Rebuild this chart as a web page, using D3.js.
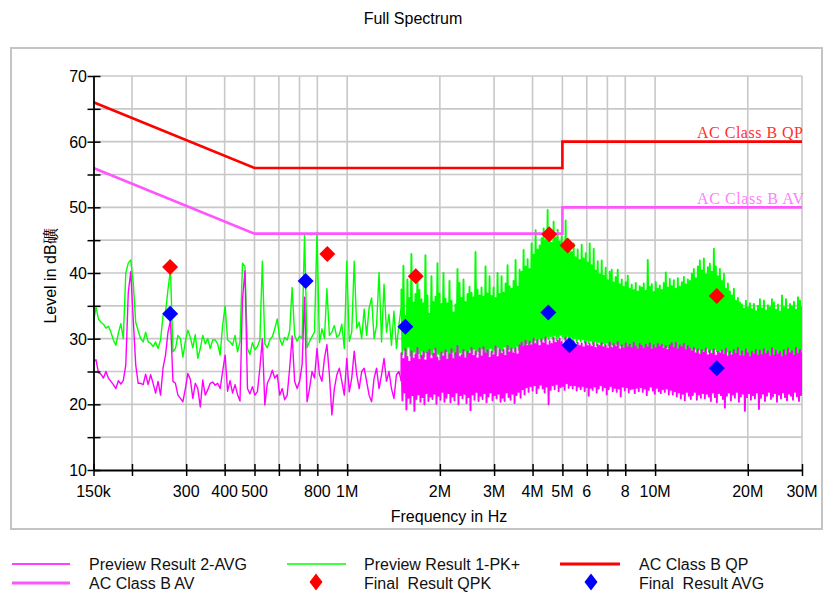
<!DOCTYPE html>
<html>
<head>
<meta charset="utf-8">
<script src="https://cdn.jsdelivr.net/npm/d3@7/dist/d3.min.js"></script>
<style>
  body { margin: 0; background: #fff; }
  svg { display: block; font-family: "Liberation Sans", Arial, sans-serif; }
</style>
</head>
<body>
<svg id="chart" width="825" height="592"></svg>
<script>
// ---- Sweep 1: 150 kHz .. 1.5 MHz (log-stepped) ----
const sweepLow = [150e3, 1.5e6];
const pkLow = [
  32.5, 34.8, 33.0, 32.5, 32.2, 31.6, 31.9, 31.0, 29.8, 29.0,
  30.8, 32.3, 30.0, 40.0, 41.5, 42.0, 38.5, 32.5, 31.2, 30.0,
  29.5, 31.0, 29.5, 29.3, 28.8, 29.5, 28.5, 29.8, 33.5, 34.0,
  37.5, 40.5, 28.0, 28.5, 30.5, 30.0, 27.2, 29.6, 31.3, 30.2,
  28.6, 30.6, 27.0, 28.5, 30.5, 29.2, 30.0, 28.5, 29.8, 29.8,
  29.2, 27.5, 32.0, 35.0, 29.8, 29.5, 29.0, 30.5, 28.0, 29.5,
  41.5, 41.0, 28.5,
  27.6, 29.4, 28.3, 28.8, 29.8, 41.8, 29.2, 28.6, 29.8, 30.3,
  31.5, 33.0, 30.0, 29.0, 30.2, 29.8, 31.2, 37.8, 30.5, 29.6,
  30.4, 30.0, 45.9, 28.6, 29.6, 30.3, 31.0, 46.2, 29.4, 31.5,
  30.0, 37.6, 30.5, 31.0, 32.0, 30.2, 30.6, 32.2, 28.5, 41.8,
  29.6, 31.0, 41.8, 31.6, 32.5, 30.0, 34.5, 30.5, 34.7, 36.2,
  30.0, 32.0, 40.1, 29.5, 38.3, 31.0, 33.7, 29.0, 34.2, 28.5,
  32.1, 35.0
];
const avLow = [
  26.5, 26.8, 24.8, 24.6, 24.0, 25.0, 24.0, 23.5, 23.0, 22.4,
  23.6, 23.1, 23.6, 26.0, 37.0, 40.2, 33.0, 26.0, 23.2, 23.2,
  23.0, 24.6, 23.0, 24.5, 23.2, 21.7, 23.5, 21.4, 25.5, 27.5,
  31.0, 32.8, 23.5, 23.2, 21.4, 20.9, 20.4, 22.4, 24.7, 23.8,
  20.9, 23.2, 22.4, 19.6, 23.7, 21.4, 22.2, 23.2, 23.4, 22.9,
  23.2, 22.4, 25.0, 27.5, 22.0, 23.6, 21.7, 23.0, 21.5, 20.5,
  36.0, 40.3, 22.4,
  21.6, 22.7, 21.4, 21.9, 25.5, 30.0, 19.9, 23.2, 24.0, 25.2,
  24.0, 24.5, 21.4, 22.4, 20.7, 21.4, 25.5, 30.4, 23.5, 22.4,
  23.5, 26.0, 36.3, 20.4, 22.4, 25.0, 24.0, 28.5, 24.5, 23.5,
  27.0, 29.1, 24.5, 18.4, 22.4, 24.5, 25.5, 23.5, 21.4, 27.0,
  21.9, 24.0, 28.1, 24.5, 22.4, 25.0, 25.5, 23.5, 21.4, 20.4,
  24.0, 25.5, 22.4, 24.5, 27.0, 23.5, 25.0, 22.4, 20.9, 24.5,
  25.0, 23.5
];

// ---- Sweep 2: 1.5 MHz .. 30 MHz (log-stepped, dense) ----
const sweepHigh = [1.5e6, 30e6];
const pkHigh = [
  37.5, 27.6, 41.1, 28.3, 33.5, 27.0, 39.0, 28.8, 36.2, 27.4,
  42.9, 27.2, 35.5, 28.0, 36.8, 26.6, 40.2, 27.8, 37.4, 27.1,
  36.0, 28.2, 35.4, 27.3, 42.7, 27.9, 36.6, 26.9, 33.8, 27.6,
  39.5, 27.5, 35.6, 28.4, 36.4, 27.0, 41.5, 27.7, 36.9, 26.8,
  35.3, 27.9, 40.0, 27.2, 36.1, 28.1, 35.4, 26.7, 38.8, 27.5,
  35.8, 28.0, 34.0, 27.1, 35.2, 27.8, 40.6, 27.3, 38.5, 27.9,
  36.2, 27.4, 39.0, 28.2, 35.6, 27.0, 36.8, 27.7, 37.9, 28.3,
  37.0, 27.8, 36.3, 28.4, 43.2, 27.6, 37.5, 28.1, 36.6, 27.3,
  37.8, 28.5, 36.4, 27.7, 41.0, 28.0, 36.9, 27.4, 39.5, 28.6,
  36.5, 27.9, 37.8, 28.3, 36.2, 27.6, 40.0, 28.7, 36.8, 27.8,
  39.5, 28.2, 37.0, 28.8, 38.4, 27.7, 41.2, 28.4, 38.0, 28.0,
  37.6, 28.6, 38.8, 28.1, 42.0, 28.9, 37.9, 28.3, 40.5, 28.7,
  40.2, 29.0, 43.5, 28.6, 41.0, 29.3, 42.1, 28.8, 40.6, 29.4,
  44.5, 29.2, 42.8, 29.8, 46.5, 29.4, 43.6, 30.0, 44.2, 29.6,
  45.3, 30.1, 46.8, 29.7, 45.0, 30.3, 49.6, 29.9, 46.2, 30.4,
  44.6, 30.0, 47.8, 30.5, 45.4, 29.8, 46.6, 30.2, 44.8, 30.6,
  45.6, 30.3, 44.4, 29.9, 48.0, 30.4, 45.2, 30.0, 44.0, 30.2,
  43.2, 29.7, 44.5, 30.1, 42.4, 29.5, 43.6, 30.0, 42.0, 29.6,
  44.3, 29.9, 42.2, 29.4, 43.0, 29.8, 41.6, 29.3, 44.5, 29.7,
  41.2, 29.2, 43.7, 29.6, 40.4, 29.0, 41.8, 29.5, 39.8, 29.1,
  41.9, 29.3, 39.6, 28.9, 40.8, 29.4, 38.9, 29.0, 40.2, 28.7,
  40.5, 29.1, 38.6, 28.8, 39.4, 29.2, 40.5, 28.6, 38.3, 29.0,
  39.0, 28.7, 37.9, 28.4, 38.6, 28.9, 39.6, 28.3, 37.6, 28.8,
  38.2, 28.5, 37.4, 28.9, 38.5, 28.2, 37.2, 28.6, 38.0, 28.4,
  37.8, 28.7, 38.4, 28.3, 37.3, 28.8, 42.0, 28.5, 37.9, 28.2,
  38.3, 28.6, 37.1, 28.9, 38.6, 28.4, 37.6, 28.7, 38.1, 28.3,
  37.4, 28.8, 38.5, 28.4, 40.1, 28.7, 37.8, 28.2, 39.1, 28.6,
  38.0, 28.3, 38.9, 27.8, 37.6, 28.4, 39.2, 28.1, 37.9, 27.7,
  38.6, 28.2, 39.4, 27.9, 38.3, 28.5, 39.0, 27.6, 38.8, 28.3,
  39.9, 27.9, 40.6, 28.4, 39.2, 28.0, 41.0, 28.3, 41.9, 27.8,
  40.4, 28.2, 42.2, 27.7, 39.8, 28.5, 40.9, 28.0, 41.4, 28.3,
  40.2, 27.9, 43.7, 28.4, 41.0, 28.1, 39.5, 27.6, 40.6, 28.2,
  38.8, 27.8, 39.9, 27.5, 37.6, 28.0, 38.4, 27.4, 37.2, 27.9,
  36.6, 27.6, 37.6, 27.3, 35.8, 27.8, 36.2, 27.2, 35.5, 27.7,
  35.2, 27.4, 34.6, 27.0, 35.8, 27.5, 34.8, 26.9, 35.4, 27.3,
  34.5, 27.2, 35.3, 26.8, 34.2, 27.4, 35.0, 27.0, 36.0, 27.3,
  34.6, 26.9, 35.8, 27.3, 34.3, 27.0, 35.1, 26.7, 34.8, 27.2,
  36.0, 27.1, 35.5, 26.8, 34.4, 27.3, 35.2, 26.9, 34.1, 27.0,
  36.6, 27.2, 34.8, 26.9, 36.0, 27.4, 34.5, 27.0, 35.3, 26.8,
  34.9, 27.1, 35.6, 26.9, 34.4, 27.3, 36.3, 27.0, 35.8, 27.2,
  35.0
];
const avHigh = [
  27.8, 20.6, 26.9, 21.8, 28.4, 19.2, 27.2, 21.0, 26.5, 20.2,
  28.1, 21.4, 27.0, 19.0, 27.6, 20.8, 28.6, 21.5, 26.8, 20.4,
  27.4, 21.1, 28.0, 20.0, 26.7, 21.7, 27.9, 20.5, 28.3, 21.2,
  26.9, 20.8, 27.7, 21.6, 28.5, 20.1, 27.1, 21.3, 26.6, 20.7,
  27.9, 21.9, 27.3, 20.4, 28.2, 21.0, 26.8, 21.7, 27.6, 20.3,
  28.4, 21.2, 26.9, 20.6, 27.8, 21.8, 28.9, 20.0, 27.2, 21.4,
  27.5, 20.9, 28.3, 21.6, 27.0, 20.2, 28.0, 21.1, 27.7, 19.1,
  28.6, 21.5, 27.4, 20.7, 28.1, 21.9, 27.0, 20.5, 28.5, 21.3,
  27.3, 20.8, 28.7, 21.7, 27.8, 20.3, 28.2, 21.2, 27.1, 21.8,
  28.0, 20.6, 27.5, 21.4, 28.8, 20.9, 27.2, 21.6, 28.4, 20.4,
  27.7, 21.0, 28.3, 20.5, 27.4, 21.8, 28.9, 21.1, 27.9, 20.7,
  28.5, 21.6, 27.8, 20.2, 28.6, 21.4, 27.6, 21.9, 29.0, 21.0,
  29.4, 22.3, 28.8, 21.5, 29.7, 22.6, 28.9, 21.9, 29.5, 22.8,
  29.0, 22.1, 30.0, 22.9, 29.2, 21.7, 29.8, 22.5, 28.9, 23.0,
  29.9, 22.4, 29.3, 21.8, 30.2, 22.7, 29.0, 20.0, 29.6, 22.2,
  29.2, 22.9, 30.1, 22.3, 29.4, 23.1, 29.7, 22.0, 30.0, 22.6,
  29.5, 22.8, 29.0, 22.2, 30.2, 23.2, 29.3, 22.5, 29.8, 22.9,
  29.1, 22.4, 29.6, 22.9, 28.8, 22.1, 29.4, 22.7, 28.9, 22.3,
  29.3, 22.8, 28.7, 22.0, 29.5, 22.6, 28.9, 21.3, 29.2, 22.5,
  28.8, 22.2, 29.4, 22.7, 28.6, 21.8, 29.1, 22.4, 28.9, 22.9,
  29.3, 22.1, 28.7, 22.6, 29.0, 21.5, 28.5, 22.3, 29.4, 22.8,
  28.6, 22.0, 29.2, 22.5, 28.8, 21.9, 29.5, 22.4, 28.4, 21.2,
  29.0, 22.7, 28.5, 22.1, 29.3, 22.6, 28.7, 21.8, 29.1, 22.3,
  28.6, 22.4, 29.4, 21.7, 28.8, 22.5, 28.4, 22.0, 29.2, 22.6,
  28.9, 21.9, 28.5, 22.4, 29.1, 21.4, 28.7, 22.2, 29.3, 22.7,
  28.4, 22.1, 29.0, 21.6, 28.6, 22.5, 29.2, 22.0, 28.8, 21.7,
  29.1, 22.3, 28.5, 21.9, 28.9, 22.4, 28.3, 21.5, 29.0, 22.2,
  29.3, 21.5, 28.6, 22.0, 29.4, 21.2, 28.4, 21.8, 29.0, 20.9,
  28.7, 21.6, 29.2, 20.6, 28.3, 21.9, 28.9, 21.3, 28.5, 20.8,
  28.1, 21.4, 28.6, 21.9, 27.8, 20.7, 28.4, 21.5, 27.6, 21.0,
  28.3, 21.7, 27.9, 20.9, 28.5, 21.6, 27.5, 21.2, 28.2, 20.5,
  27.7, 21.8, 28.4, 21.1, 27.4, 20.3, 28.0, 21.7, 27.8, 21.4,
  28.2, 20.8, 27.6, 19.5, 28.5, 21.3, 27.3, 21.8, 28.0, 20.6,
  27.5, 21.5, 28.3, 21.0, 27.7, 21.9, 28.6, 20.4, 27.4, 21.2,
  28.1, 21.6, 27.3, 19.0, 28.4, 21.1, 27.8, 21.7, 27.2, 20.7,
  28.0, 21.4, 27.6, 20.9, 28.3, 21.8, 27.4, 19.3, 28.2, 21.0,
  27.5, 21.6, 28.4, 20.5, 27.7, 21.3, 28.1, 21.9, 27.3, 20.8,
  28.6, 21.2, 27.4, 21.7, 28.2, 20.4, 27.6, 21.5, 28.0, 20.9,
  27.2, 21.8, 28.3, 21.1, 27.5, 20.6, 28.5, 21.6, 27.8, 21.3,
  28.1, 20.7, 27.4, 21.9, 28.6, 21.2, 27.7, 20.5, 28.3, 21.4,
  27.9
];

// ---- Limit lines (class B, mains) ----
const qpLimitFreq  = [150e3, 500e3, 5e6, 5e6, 30e6];
const qpLimitLevel = [66, 56, 56, 60, 60];
const avLimitFreq  = [150e3, 500e3, 5e6, 5e6, 30e6];
const avLimitLevel = [56, 46, 46, 50, 50];

// ---- Final measurements ----
const finalQpkFreq  = [266e3, 862e3, 1.67e6, 4.53e6, 5.20e6, 15.86e6];
const finalQpkLevel = [40.9, 42.9, 39.5, 45.9, 44.2, 36.5];
const finalAvgFreq  = [266e3, 733e3, 1.545e6, 4.50e6, 5.27e6, 15.86e6];
const finalAvgLevel = [33.8, 38.8, 31.8, 34.0, 29.0, 25.5];

// ---- Axis ticks ----
const xTickFreq = [150e3, 200e3, 300e3, 400e3, 500e3, 600e3, 700e3, 800e3, 1e6,
                   2e6, 3e6, 4e6, 5e6, 6e6, 7e6, 8e6, 10e6, 20e6, 30e6];
const xLabelFreq = [150e3, 300e3, 400e3, 500e3, 800e3, 1e6, 2e6, 3e6, 4e6, 5e6, 6e6, 8e6, 10e6, 20e6, 30e6];
const xLabelText = ["150k", "300", "400", "500", "800", "1M", "2M", "3M", "4M", "5M", "6", "8", "10M", "20M", "30M"];
const yTickLevel = [10, 15, 20, 25, 30, 35, 40, 45, 50, 55, 60, 65, 70];
const yLabelLevel = [10, 20, 30, 40, 50, 60, 70];

// ---------------------------------------------------------------
const svg = d3.select("#chart");
const x = d3.scaleLog().domain([150e3, 30e6]).range([93.5, 802]);
const y = d3.scaleLinear().domain([10, 70]).range([470, 76]);

const C = {
  grid: "#c8c8c8", pk: "#00ff00", av: "#ff00ff",
  qp: "#ff0000", avLim: "#ff55ff", frame: "#c4c4c4"
};
const serif = "'Liberation Serif', 'DejaVu Serif', serif";

// sweep frequency grid: equal steps on the log axis
function sweep(range, levels) {
  const n = levels.length, r = range[1] / range[0];
  return levels.map((v, i) => [range[0] * Math.pow(r, i / (n - 1)), v]);
}
const pkA = sweep(sweepLow, pkLow), pkB = sweep(sweepHigh, pkHigh);
const avA = sweep(sweepLow, avLow), avB = sweep(sweepHigh, avHigh);

// outer frame
svg.append("rect").attr("x", 11).attr("y", 48).attr("width", 811).attr("height", 481)
  .attr("fill", "none").attr("stroke", C.frame).attr("stroke-width", 2);

// title
svg.append("text").attr("x", 413).attr("y", 24).attr("text-anchor", "middle")
  .attr("font-size", 16).attr("fill", "#000").text("Full Spectrum");

// grid
const grid = svg.append("g").attr("stroke", C.grid).attr("stroke-width", 1.6);
grid.selectAll("line.v").data(xTickFreq.slice(1)).join("line")
  .attr("x1", d => x(d)).attr("x2", d => x(d)).attr("y1", y(70)).attr("y2", y(10));
grid.selectAll("line.h").data(yTickLevel.slice(1)).join("line")
  .attr("x1", x(150e3)).attr("x2", x(30e6)).attr("y1", d => y(d)).attr("y2", d => y(d));

// clip for traces
svg.append("clipPath").attr("id", "plot").append("rect")
  .attr("x", x(150e3)).attr("y", y(70)).attr("width", x(30e6) - x(150e3)).attr("height", y(10) - y(70));

const line = d3.line().x(d => x(d[0])).y(d => y(d[1]));
const plot = svg.append("g").attr("clip-path", "url(#plot)");

function trace(data, color, width) {
  plot.append("path").datum(data).attr("d", line)
    .attr("fill", "none").attr("stroke", color).attr("stroke-width", width)
    .attr("stroke-linejoin", "round");
}
// peak detector trace, then average detector trace
trace(pkA, C.pk, 1.4);
trace([pkA[pkA.length - 1]].concat(pkB), C.pk, 1.9);
trace(avA, C.av, 1.4);
trace([avA[avA.length - 1]].concat(avB), C.av, 1.9);

// limit lines
const zip = (f, l) => f.map((v, i) => [v, l[i]]);
svg.append("path").datum(zip(qpLimitFreq, qpLimitLevel)).attr("d", line)
  .attr("fill", "none").attr("stroke", C.qp).attr("stroke-width", 2.6);
svg.append("path").datum(zip(avLimitFreq, avLimitLevel)).attr("d", line)
  .attr("fill", "none").attr("stroke", C.avLim).attr("stroke-width", 2.6);

svg.append("text").attr("x", 803).attr("y", 138).attr("text-anchor", "end")
  .style("font-family", serif).attr("font-size", 16)
  .attr("textLength", 106).attr("lengthAdjust", "spacing")
  .attr("fill", "#ff3030").text("AC Class B QP");
svg.append("text").attr("x", 804).attr("y", 204).attr("text-anchor", "end")
  .style("font-family", serif).attr("font-size", 16)
  .attr("textLength", 107).attr("lengthAdjust", "spacing")
  .attr("fill", "#ff80ff").text("AC Class B AV");

// axes
const xAxis = svg.append("g").attr("transform", `translate(0,${y(10)})`)
  .call(d3.axisBottom(x).tickValues(xTickFreq).tickFormat("").tickSizeOuter(0).tickSizeInner(6));
xAxis.selectAll(".tick line").attr("y1", -6).attr("y2", 6).attr("stroke-width", 1.5);
xAxis.select(".domain").attr("stroke-width", 1.8);

const yAxis = svg.append("g").attr("transform", `translate(${x(150e3)},0)`)
  .call(d3.axisLeft(y).tickValues(yTickLevel).tickFormat("").tickSizeOuter(0).tickSizeInner(6));
yAxis.selectAll(".tick line").attr("x1", -6).attr("x2", 7).attr("stroke-width", 1.5);
yAxis.select(".domain").attr("stroke-width", 1.8);

svg.append("g").selectAll("text").data(xLabelFreq).join("text")
  .attr("x", d => x(d)).attr("y", 497).attr("text-anchor", "middle")
  .attr("font-size", 16).text((d, i) => xLabelText[i]);

svg.append("g").selectAll("text").data(yLabelLevel).join("text")
  .attr("x", 87).attr("y", d => y(d) + 6).attr("text-anchor", "end")
  .attr("font-size", 16).text(d => d);

svg.append("text").attr("x", 449).attr("y", 522).attr("text-anchor", "middle")
  .attr("font-size", 16).text("Frequency in Hz");
svg.append("text").attr("transform", "translate(56,276) rotate(-90)").attr("text-anchor", "middle")
  .attr("font-size", 16).text("Level in dB礦");

// final result markers
const diamond = (w, h) => `M0,${-h}L${w},0L0,${h}L${-w},0Z`;
svg.append("g").selectAll("path").data(zip(finalQpkFreq, finalQpkLevel)).join("path")
  .attr("d", diamond(8, 8)).attr("fill", "#ff0000")
  .attr("transform", d => `translate(${x(d[0])},${y(d[1])})`);
svg.append("g").selectAll("path").data(zip(finalAvgFreq, finalAvgLevel)).join("path")
  .attr("d", diamond(8, 8)).attr("fill", "#0000ff")
  .attr("transform", d => `translate(${x(d[0])},${y(d[1])})`);

// legend
const lg = svg.append("g");
const legendText = (tx, ty, s) => lg.append("text").attr("x", tx).attr("y", ty)
  .attr("font-size", 16).style("white-space", "pre").attr("fill", "#111").text(s);
const legendLine = (x1, x2, ly, color, w) => lg.append("line")
  .attr("x1", x1).attr("x2", x2).attr("y1", ly).attr("y2", ly).attr("stroke", color).attr("stroke-width", w);

legendLine(12, 70, 564, C.av, 1.4);          legendText(89, 570, "Preview Result 2-AVG");
legendLine(287, 346, 564, C.pk, 1.4);        legendText(364, 570, "Preview Result 1-PK+");
legendLine(560, 620, 564, C.qp, 3);          legendText(639, 570, "AC Class B QP");
legendLine(12, 70, 583, C.avLim, 3.2);       legendText(89, 589, "AC Class B AV");
lg.append("path").attr("d", diamond(6.5, 8.5)).attr("fill", "#ff0000").attr("transform", "translate(316,582)");
legendText(364, 589, "Final  Result QPK");
lg.append("path").attr("d", diamond(6.5, 8.5)).attr("fill", "#0000ff").attr("transform", "translate(591,582)");
legendText(639, 589, "Final  Result AVG");
</script>
</body>
</html>
